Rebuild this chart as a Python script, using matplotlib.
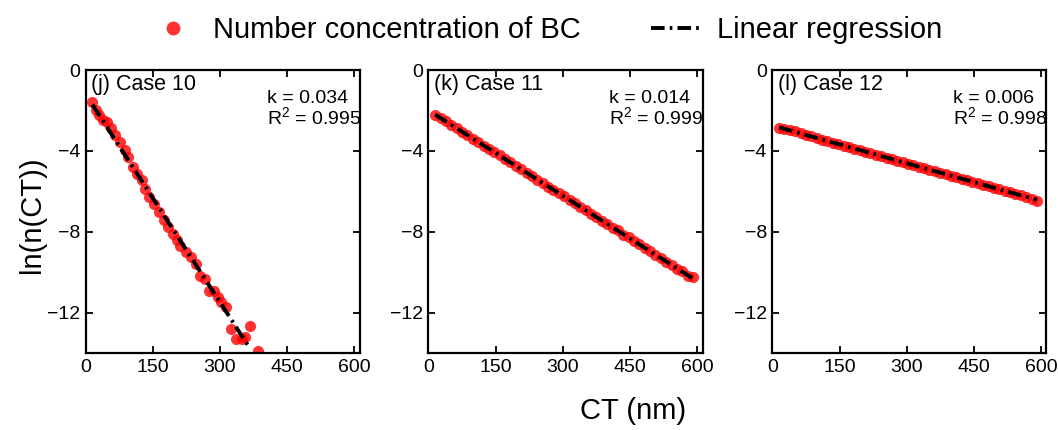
import numpy as np
import matplotlib
matplotlib.use('Agg')
import matplotlib.pyplot as plt

plt.rcParams['font.family'] = ['Liberation Sans', 'DejaVu Sans']

# Painel (j) Case 10
x_j = [15, 23, 30, 39, 47, 56, 65, 76, 88, 95, 105, 115, 125, 132, 142, 152, 164,
       175, 184, 194, 203, 210, 224, 236, 247, 255, 266, 276, 286, 296, 303, 314,
       325, 336, 348, 355, 366, 385]
y_j = [-1.57, -1.98, -2.23, -2.48, -2.56, -2.89, -3.22, -3.55, -3.97, -4.30, -4.79,
       -5.12, -5.45, -5.87, -6.28, -6.61, -7.02, -7.44, -7.77, -8.10, -8.43, -8.68,
       -9.01, -9.26, -9.59, -10.17, -10.33, -10.91, -10.91, -11.24, -11.49, -11.74,
       -12.81, -13.31, -13.31, -13.22, -12.64, -13.88]

# Painel (k) Case 11
x_k = [15, 27, 39, 51, 63, 75, 87, 99, 111, 123, 135, 147, 159, 171, 183, 195, 207,
       219, 231, 243, 255, 267, 279, 291, 303, 315, 327, 339, 351, 363, 375, 387,
       399, 411, 423, 435, 447, 459, 471, 483, 495, 507, 519, 531, 543, 555, 567,
       579, 591]
y_k = [-2.20, -2.36, -2.52, -2.72, -2.86, -3.06, -3.20, -3.40, -3.54, -3.74, -3.88,
       -4.07, -4.21, -4.42, -4.56, -4.75, -4.90, -5.09, -5.24, -5.43, -5.57, -5.77,
       -5.91, -6.10, -6.25, -6.44, -6.58, -6.79, -6.93, -7.12, -7.26, -7.46, -7.60,
       -7.80, -7.93, -8.14, -8.27, -8.48, -8.61, -8.82, -8.95, -9.16, -9.29, -9.50,
       -9.63, -9.83, -9.96, -10.17, -10.24]

# Painel (l) Case 12
x_l = [15, 27, 39, 51, 63, 75, 87, 99, 111, 123, 135, 147, 159, 171, 183, 195, 207,
       219, 231, 243, 255, 267, 279, 291, 303, 315, 327, 339, 351, 363, 375, 387,
       399, 411, 423, 435, 447, 459, 471, 483, 495, 507, 519, 531, 543, 555, 567,
       579, 591]
y_l = [-2.86, -2.93, -2.97, -3.02, -3.10, -3.19, -3.27, -3.35, -3.44, -3.52, -3.59,
       -3.67, -3.74, -3.81, -3.89, -3.96, -4.04, -4.11, -4.18, -4.26, -4.33, -4.41,
       -4.48, -4.56, -4.63, -4.70, -4.78, -4.85, -4.92, -5.00, -5.07, -5.15, -5.22,
       -5.30, -5.37, -5.44, -5.52, -5.59, -5.67, -5.74, -5.81, -5.89, -5.96, -6.04,
       -6.11, -6.18, -6.26, -6.36, -6.48]

titulos = ['(j) Case 10', '(k) Case 11', '(l) Case 12']
k_vals = ['0.034', '0.014', '0.006']
r2_vals = ['0.995', '0.999', '0.998']
fim_reta = [366, 591, 591]   # fim da reta de regressao em cada painel

dados = [(x_j, y_j), (x_k, y_k), (x_l, y_l)]

fig = plt.figure(figsize=(10.58, 4.30), dpi=100)
lefts = [0.081, 0.405, 0.730]
estilo = (0, (3.5, 1.3, 0.7, 1.3))

for i, (xs, ys) in enumerate(dados):
    ax = fig.add_axes([lefts[i], 0.179, 0.259, 0.658])
    ax.plot(xs, ys, 'o', color='#ff0000', alpha=0.8, ms=8, mec='none',
            label='Number concentration of BC', zorder=2)
    # regressao linear
    a, b = np.polyfit(xs, ys, 1)
    xr = np.array([xs[0], fim_reta[i]])
    ax.plot(xr, a * xr + b, color='black', lw=2.8, linestyle=estilo,
            label='Linear regression', zorder=3)

    ax.set_xlim(0, 612)
    ax.set_ylim(-14, 0)
    ax.set_xticks([0, 150, 300, 450, 600])
    ax.set_yticks([0, -4, -8, -12])
    ax.tick_params(direction='in', top=True, right=True, length=5, width=1.3,
                   labelsize=14, pad=4)
    for s in ax.spines.values():
        s.set_linewidth(1.6)

    ax.text(0.02, 0.985, titulos[i], transform=ax.transAxes, fontsize=15.5,
            va='top', ha='left')
    ax.text(0.66, 0.93, 'k = ' + k_vals[i] + '\n$\\mathregular{R^2}$ = ' + r2_vals[i],
            transform=ax.transAxes, fontsize=14, va='top', ha='left',
            linespacing=0.95)

    if i == 0:
        handles, labels = ax.get_legend_handles_labels()

fig.legend(handles, labels, loc='center', bbox_to_anchor=(0.515, 0.93), ncol=2,
           frameon=False, fontsize=21, handlelength=1.7, columnspacing=2.4,
           handletextpad=0.55, markerscale=1.25)
fig.text(0.598, 0.045, 'CT (nm)', fontsize=21, ha='center', va='center')
fig.text(0.030, 0.5, 'ln(n(CT))', fontsize=21, ha='center', va='center',
         rotation=90)

plt.savefig('out.png', dpi=100)
